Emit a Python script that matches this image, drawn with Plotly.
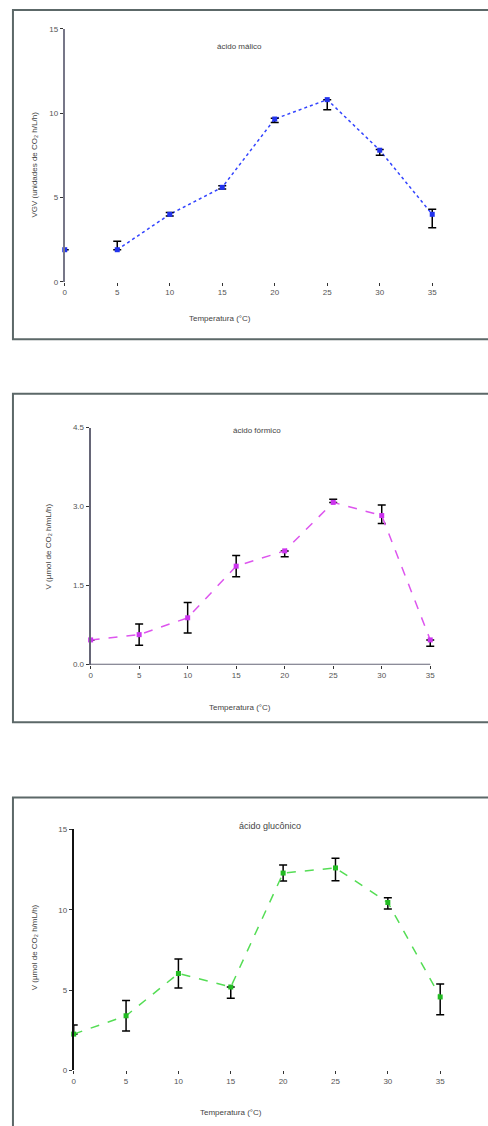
import plotly.graph_objects as go

W, H = 488, 1126

temps = [0, 5, 10, 15, 20, 25, 30, 35]
x_tick_labels = ["0", "5", "10", "15", "20", "25", "30", "35"]

# Panel 1
p1_title = "ácido málico"
p1_values = [1.9, 1.9, 4.0, 5.6, 9.65, 10.8, 7.8, 4.0]
p1_err_plus = [0.0, 0.5, 0.1, 0.1, 0.05, 0.0, 0.05, 0.3]
p1_err_minus = [0.0, 0.0, 0.1, 0.1, 0.2, 0.6, 0.3, 0.8]
p1_yticks = [0, 5, 10, 15]

# Panel 2
p2_title = "ácido fórmico"
p2_values = [0.47, 0.57, 0.89, 1.87, 2.16, 3.08, 2.83, 0.47]
p2_err_plus = [0.0, 0.2, 0.29, 0.2, 0.0, 0.06, 0.2, 0.0]
p2_err_minus = [0.0, 0.2, 0.29, 0.2, 0.11, 0.0, 0.15, 0.12]
p2_yticks = [0.0, 1.5, 3.0, 4.5]
p2_ytick_labels = ["0.0", "1.5", "3.0", "4.5"]

# Panel 3
p3_title = "ácido glucônico"
p3_values = [2.26, 3.4, 6.03, 5.19, 12.28, 12.6, 10.45, 4.57]
p3_err_plus = [0.56, 0.95, 0.9, 0.0, 0.5, 0.6, 0.3, 0.8]
p3_err_minus = [0.0, 0.95, 0.9, 0.7, 0.5, 0.8, 0.4, 1.1]
p3_yticks = [0, 5, 10, 15]

x_title = "Temperatura (°C)"
y_title_1 = "VGV (unidades de CO₂ h/L/h)"
y_title_2 = "V (µmol de CO₂ h/mL/h)"
y_title_3 = "V (µmol de CO₂ h/mL/h)"

XMAX = 36.0

def px(x):
    return x / W

def py(y):
    return 1 - y / H

def xdomain(p0, p35):
    # pixel of x=0 and x=35, extend to XMAX
    scale = (p35 - p0) / 35.0
    return [px(p0), px(p0 + scale * XMAX)]

fig = go.Figure()

font = dict(family="Liberation Sans, Arial, sans-serif", size=8, color="#555")

def err(plus, minus):
    return dict(type="data", symmetric=False, array=plus, arrayminus=minus,
                color="black", thickness=1.5, width=4)

# Panel 1: markers for all points, dotted line from 5 onwards
fig.add_trace(go.Scatter(x=temps[1:], y=p1_values[1:], mode="lines",
                         line=dict(color="#3344ff", width=1.5, dash="dot"),
                         xaxis="x", yaxis="y", hoverinfo="skip", showlegend=False, cliponaxis=False))
fig.add_trace(go.Scatter(x=temps, y=p1_values, mode="markers",
                         marker=dict(symbol="square", size=5, color="#2233ee"),
                         error_y=err(p1_err_plus, p1_err_minus),
                         xaxis="x", yaxis="y", showlegend=False, cliponaxis=False))

fig.add_trace(go.Scatter(x=temps, y=p2_values, mode="lines+markers",
                         line=dict(color="#dd55ee", width=1.5, dash="dash"),
                         marker=dict(symbol="square", size=5, color="#cc33ee"),
                         error_y=err(p2_err_plus, p2_err_minus),
                         xaxis="x2", yaxis="y2", showlegend=False, cliponaxis=False))

fig.add_trace(go.Scatter(x=temps, y=p3_values, mode="lines+markers",
                         line=dict(color="#55dd55", width=1.5, dash="dash"),
                         marker=dict(symbol="square", size=5, color="#22bb22"),
                         error_y=err(p3_err_plus, p3_err_minus),
                         xaxis="x3", yaxis="y3", showlegend=False, cliponaxis=False))

def xaxis(domain, anchor, showline):
    return dict(domain=domain, anchor=anchor, range=[0, XMAX], tickvals=temps, ticktext=x_tick_labels,
                showgrid=False, zeroline=False, showline=False, tickfont=font,
                ticks="outside", ticklen=3, tickcolor="#333")

def yaxis(domain, anchor, rng, tickvals, ticktext, color):
    return dict(domain=domain, anchor=anchor, range=rng, tickvals=tickvals, ticktext=ticktext,
                showgrid=False, zeroline=False, showline=True, linecolor=color, linewidth=2,
                ticks="outside", ticklen=3, tickcolor="#333", tickfont=font)

fig.update_layout(
    width=W, height=H, margin=dict(l=0, r=0, t=0, b=0),
    paper_bgcolor="white", plot_bgcolor="white", showlegend=False,
    xaxis=xaxis(xdomain(63, 432), "y", False),
    yaxis=yaxis([py(280), py(25)], "x", [0, 15], p1_yticks, [str(v) for v in p1_yticks], "#778"),
    xaxis2=xaxis(xdomain(89, 430), "y2", True),
    yaxis2=yaxis([py(666), py(427)], "x2", [0, 4.5], p2_yticks, p2_ytick_labels, "#667"),
    xaxis3=xaxis(xdomain(72, 440), "y3", False),
    yaxis3=yaxis([py(1075), py(832)], "x3", [0, 15], p3_yticks, [str(v) for v in p3_yticks], "#111"),
)

frame = dict(color="#5c6868", width=2)
shapes = []
for top, bottom in [(6, 338), (393, 724), (800, 1140)]:
    shapes.append(dict(type="rect", xref="paper", yref="paper", x0=px(11), x1=1.05,
                       y0=py(bottom), y1=py(top), line=frame, fillcolor="rgba(0,0,0,0)"))
# x-axis baseline of panel 2 (ends at x = 35)
shapes.append(dict(type="line", xref="x2", yref="y2", x0=0, x1=35, y0=0, y1=0,
                   line=dict(color="#667", width=2)))
fig.update_layout(shapes=shapes)

ann = []
def text(x, y, t, angle=0, size=8):
    ann.append(dict(x=px(x), y=py(y), xref="paper", yref="paper", text=t, showarrow=False,
                    textangle=angle, font=dict(family=font["family"], size=size, color="#444"),
                    xanchor="center", yanchor="middle"))

text(238, 43, p1_title)
text(256, 430, p2_title)
text(269, 829, p3_title, size=9)
text(219, 317, x_title)
text(239, 709, x_title)
text(230, 1117, x_title)
text(33, 162, y_title_1, angle=-90)
text(47, 547, y_title_2, angle=-90)
text(33, 951, y_title_3, angle=-90)
fig.update_layout(annotations=ann)

fig.write_html("out.html")
